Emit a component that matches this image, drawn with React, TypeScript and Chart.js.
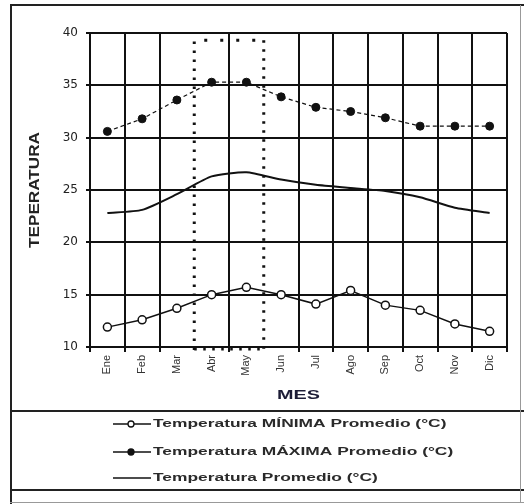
import { useEffect, useRef } from "react";
import { Chart, registerables } from "chart.js";

Chart.register(...registerables);

const MONTHS = ["Ene", "Feb", "Mar", "Abr", "May", "Jun", "Jul", "Ago", "Sep", "Oct", "Nov", "Dic"];
const TEMP_MIN = [11.9, 12.6, 13.7, 15.0, 15.7, 15.0, 14.1, 15.4, 14.0, 13.5, 12.2, 11.5];
const TEMP_MAX = [30.6, 31.8, 33.6, 35.3, 35.3, 33.9, 32.9, 32.5, 31.9, 31.1, 31.1, 31.1];
const TEMP_AVG = [22.8, 23.1, 24.6, 26.3, 26.7, 26.0, 25.5, 25.2, 24.9, 24.3, 23.3, 22.8];

const LABEL_MIN = "Temperatura MÍNIMA Promedio (°C)";
const LABEL_MAX = "Temperatura MÁXIMA Promedio (°C)";
const LABEL_AVG = "Temperatura Promedio (°C)";
const X_TITLE = "MES";
const Y_TITLE = "TEPERATURA";

const Y_MIN = 10;
const Y_MAX = 40;
const Y_STEP = 5;

// highlighted period (between Mar/Abr and May/Jun boundaries)
const HIGHLIGHT_FROM = 2.5;
const HIGHLIGHT_TO = 4.5;
const HIGHLIGHT_TOP = 39.3;
// grid lines replaced by the dotted borders (left edges of Abr and Jun)
const HIDDEN_GRID = [3, 5];

const INK = "#111";

const decorPlugin = {
  id: "decor",
  beforeDraw(chart: any) {
    const { ctx, width, height } = chart;
    ctx.save();
    ctx.fillStyle = "#fff";
    ctx.fillRect(0, 0, width, height);
    ctx.restore();
  },
  afterDraw(chart: any) {
    const { ctx } = chart;
    const xs = chart.scales.x;
    const ys = chart.scales.y;
    ctx.save();

    // highlighted dotted rectangle
    const x1 = xs.getPixelForValue(HIGHLIGHT_FROM);
    const x2 = xs.getPixelForValue(HIGHLIGHT_TO);
    const yTop = ys.getPixelForValue(HIGHLIGHT_TOP);
    const yBot = ys.getPixelForValue(Y_MIN);
    ctx.strokeStyle = INK;
    ctx.lineWidth = 3;
    ctx.setLineDash([2.5, 6.5]);
    ctx.beginPath();
    ctx.moveTo(x1, yBot + 3);
    ctx.lineTo(x1, yTop);
    ctx.moveTo(x2, yTop);
    ctx.lineTo(x2, yBot + 3);
    ctx.stroke();
    ctx.beginPath();
    ctx.moveTo(x1, yBot + 2);
    ctx.lineTo(x2, yBot + 2);
    ctx.stroke();
    ctx.setLineDash([3, 13]);
    ctx.beginPath();
    ctx.moveTo(x1 + 10, yTop);
    ctx.lineTo(x2, yTop);
    ctx.stroke();
    ctx.setLineDash([]);

    // outer frame
    ctx.strokeStyle = "#222";
    ctx.lineWidth = 2;
    ctx.beginPath();
    ctx.moveTo(11, 4);
    ctx.lineTo(11, 504);
    ctx.moveTo(10, 5);
    ctx.lineTo(524, 5);
    ctx.moveTo(10, 411);
    ctx.lineTo(524, 411);
    ctx.moveTo(10, 490);
    ctx.lineTo(524, 490);
    ctx.stroke();
    ctx.strokeStyle = "#999";
    ctx.lineWidth = 1;
    ctx.beginPath();
    ctx.moveTo(10, 502.5);
    ctx.lineTo(524, 502.5);
    ctx.moveTo(520.5, 5);
    ctx.lineTo(520.5, 502);
    ctx.stroke();

    // y title
    ctx.fillStyle = "#222";
    ctx.textAlign = "center";
    ctx.textBaseline = "middle";
    ctx.font = "bold 11px 'Liberation Sans', Arial, sans-serif";
    ctx.save();
    ctx.translate(35, 190);
    ctx.rotate(-Math.PI / 2);
    const yw = ctx.measureText(Y_TITLE).width;
    ctx.scale(116 / yw, 1.4);
    ctx.fillText(Y_TITLE, 0, 0);
    ctx.restore();

    // x title
    ctx.save();
    ctx.fillStyle = "#1c1c36";
    ctx.font = "bold 13px 'Liberation Sans', Arial, sans-serif";
    const xw = ctx.measureText(X_TITLE).width;
    ctx.translate((chart.chartArea.left + chart.chartArea.right) / 2, 395);
    ctx.scale(43 / xw, 1);
    ctx.fillText(X_TITLE, 0, 0);
    ctx.restore();

    // legend
    const rows = [424, 452, 478];
    ctx.font = "bold 11px 'Liberation Sans', Arial, sans-serif";
    const sx = 104 / ctx.measureText("Temperatura").width;
    chart.data.datasets.forEach((ds: any, i: number) => {
      const y = rows[i];
      ctx.strokeStyle = INK;
      ctx.lineWidth = 1.6;
      ctx.setLineDash([]);
      ctx.beginPath();
      ctx.moveTo(113, y);
      ctx.lineTo(151, y);
      ctx.stroke();
      if (ds.pointRadius > 0) {
        ctx.beginPath();
        ctx.arc(131, y, 3, 0, Math.PI * 2);
        ctx.fillStyle = ds.pointBackgroundColor;
        ctx.fill();
        ctx.lineWidth = 1.3;
        ctx.stroke();
      }
      ctx.save();
      ctx.fillStyle = "#2a2a2a";
      ctx.textAlign = "left";
      ctx.textBaseline = "middle";
      ctx.translate(153, y);
      ctx.scale(sx, 1);
      ctx.fillText(ds.label, 0, 0);
      ctx.restore();
    });

    ctx.restore();
  },
};

export default function App() {
  const ref = useRef<HTMLCanvasElement | null>(null);

  useEffect(() => {
    document.body.style.margin = "0";
    if (!ref.current) return;
    const chart = new Chart(ref.current, {
      type: "line",
      data: {
        labels: MONTHS,
        datasets: [
          {
            label: LABEL_MIN,
            data: TEMP_MIN,
            borderColor: INK,
            borderWidth: 1.5,
            pointRadius: 4,
            pointBackgroundColor: "#fff",
            pointBorderColor: INK,
            pointBorderWidth: 1.5,
            tension: 0,
          },
          {
            label: LABEL_MAX,
            data: TEMP_MAX,
            borderColor: INK,
            borderWidth: 1.2,
            borderDash: [4, 3],
            pointRadius: 4,
            pointBackgroundColor: INK,
            pointBorderColor: INK,
            pointBorderWidth: 1,
            tension: 0,
          },
          {
            label: LABEL_AVG,
            data: TEMP_AVG,
            borderColor: INK,
            borderWidth: 2,
            pointRadius: 0,
            tension: 0.2,
          },
        ],
      },
      options: {
        responsive: false,
        animation: false,
        layout: { padding: { left: 24, top: 33, right: 17, bottom: 98 } },
        plugins: {
          legend: { display: false },
          tooltip: { enabled: false },
        },
        scales: {
          x: {
            type: "category",
            offset: true,
            grid: {
              offset: true,
              color: (c: any) => (HIDDEN_GRID.includes(c.index) ? "rgba(0,0,0,0)" : INK),
              lineWidth: 2,
              tickLength: 5,
            },
            border: { color: INK, width: 2 },
            ticks: {
              autoSkip: false,
              minRotation: 90,
              maxRotation: 90,
              padding: 3,
              color: "#333",
              font: { family: "'Liberation Sans', Arial, sans-serif", size: 11 },
            },
            afterFit: (s: any) => {
              s.height = 59;
            },
          },
          y: {
            min: Y_MIN,
            max: Y_MAX,
            ticks: {
              stepSize: Y_STEP,
              padding: 8,
              color: "#222",
              font: { family: "'DejaVu Sans', sans-serif", size: 12 },
            },
            grid: { color: INK, lineWidth: 2, tickLength: 4 },
            border: { color: INK, width: 2 },
            afterFit: (s: any) => {
              s.width = 66;
            },
          },
        },
      },
      plugins: [decorPlugin],
    });
    return () => chart.destroy();
  }, []);

  return (
    <div style={{ width: 524, height: 504 }}>
      <canvas ref={ref} width={524} height={504} style={{ width: 524, height: 504, display: "block" }} />
    </div>
  );
}
